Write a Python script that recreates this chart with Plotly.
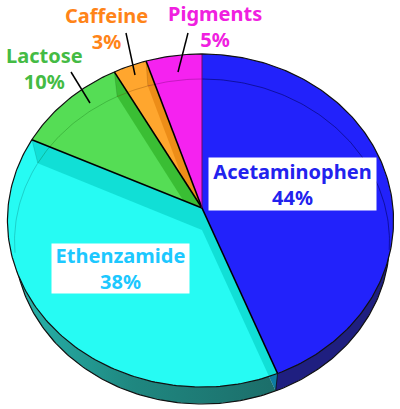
from math import cos, radians, sin

import plotly.graph_objects as go

# clockwise from 12 o'clock
names = ["Acetaminophen", "Ethenzamide", "Lactose", "Caffeine", "Pigments"]
shares = [44, 38, 10, 3, 5]
face_colors = ["#2222fb", "#26fbf3", "#55dd55", "#ffa62e", "#f522f0"]
wall_colors = [None, "rgba(0,200,190,0.55)", "rgba(40,170,30,0.6)", "rgba(225,125,10,0.6)", None]
label_colors = ["#2222ee", "#1cc8ff", "#44bb44", "#ff8418", "#f020e0"]
side_colors = ["#1f1f80", "#1c6e6a", "#2a8a2a", "#a06a10", "#a010a0"]

TOP = dict(cx=202, cy=208, rx=191, rx_left=194, ry=165.6, k=0.0751)
BOTTOM = dict(cx=202, cy=230, rx=187, rx_left=187, ry=161.7, k=0.0708)
FONT = "Noto Sans"


def project(angle, level, r=1.0):
    x = r * sin(radians(angle))
    y = r * cos(radians(angle))
    w = 1 + level["k"] * y
    rx = level["rx_left"] if x < 0 else level["rx"]
    return level["cx"] + rx * x / w, level["cy"] - level["ry"] * y / w


def arc(a0, a1, level):
    n = max(int(abs(a1 - a0)), 2)
    return [project(a0 + (a1 - a0) * i / n, level) for i in range(n + 1)]


def poly(fig, pts, fill, line="rgba(0,0,0,0)", width=0, **kw):
    fig.add_trace(go.Scatter(
        x=[p[0] for p in pts], y=[p[1] for p in pts], mode="lines", fill="toself",
        fillcolor=fill, line=dict(color=line, width=width), hoverinfo="skip", **kw,
    ))


def stroke(fig, pts, color, width):
    fig.add_trace(go.Scatter(
        x=[p[0] for p in pts], y=[p[1] for p in pts], mode="lines",
        line=dict(color=color, width=width), hoverinfo="skip",
    ))


# slice boundaries as angles
bounds = [0]
for s in shares:
    bounds.append(bounds[-1] + s * 3.6)
apex_top = (TOP["cx"], TOP["cy"])
apex_bot = (BOTTOM["cx"], BOTTOM["cy"])


def wall(angle):
    return [apex_top, project(angle, TOP), project(angle, BOTTOM), apex_bot]


fig = go.Figure()

# outer side of the disc, only the front part is left showing
poly(fig, [apex_bot] + arc(bounds[0], bounds[1], BOTTOM), side_colors[0])
fig.add_trace(go.Scatter(
    x=[p[0] for p in [apex_bot] + arc(bounds[1], bounds[2], BOTTOM)],
    y=[p[1] for p in [apex_bot] + arc(bounds[1], bounds[2], BOTTOM)],
    mode="lines", fill="toself", line=dict(width=0), hoverinfo="skip",
    fillgradient=dict(type="horizontal", colorscale=[[0, "#27b5ad"], [0.45, "#1f8780"], [1, "#1c6e6a"]]),
))
stroke(fig, arc(97, 262, BOTTOM), "#111111", 1.2)

# faces back to front so that walls seen through them stay inside their slice
order = [3, 2, 1, 0, 4]
walls = {3: [bounds[4]], 2: [bounds[3]], 1: [bounds[2], bounds[1]]}
for i in order:
    poly(fig, [apex_top] + arc(bounds[i], bounds[i + 1], TOP), face_colors[i])
    for a in walls.get(i, []):
        poly(fig, wall(a), wall_colors[i])
        stroke(fig, [project(a, TOP), project(a, BOTTOM)], "rgba(0,0,0,0.15)", 0.8)

# back rim of the lower disc, seen through the top
stroke(fig, arc(0, 97, BOTTOM), "rgba(0,0,90,0.55)", 1)
stroke(fig, arc(262, 295, BOTTOM), "rgba(0,80,80,0.25)", 1)
stroke(fig, arc(295.2, 331.2, BOTTOM), "rgba(0,80,0,0.25)", 1)
stroke(fig, arc(331.2, 342, BOTTOM), "rgba(120,60,0,0.3)", 1)
stroke(fig, arc(342, 360, BOTTOM), "rgba(90,0,90,0.3)", 1)

# slice edges and rim
for a in bounds[1:5]:
    stroke(fig, [apex_top, project(a, TOP)], "#000000", 1.6)
stroke(fig, [apex_top, project(0, TOP)], "#6a0a6a", 1)
stroke(fig, arc(0, 360, TOP), "#111111", 1.2)
stroke(fig, [project(bounds[1], TOP), project(bounds[1], BOTTOM)], "#111111", 0.8)

# leader lines
for p, q in [((71, 72), (90, 103)), ((126, 33), (135, 75)), ((188, 33), (178, 72))]:
    stroke(fig, [p, q], "#000000", 1.5)

label_xy = [(292.5, 184), (120, 268.5), (44, 68.5), (106, 28.5), (215, 26)]
label_box = [(165, 50), (135, 47), None, None, None]
for i, name in enumerate(names):
    box = label_box[i]
    fig.add_annotation(
        x=label_xy[i][0], y=label_xy[i][1], text=f"<b>{name}<br>{shares[i]}%</b>",
        showarrow=False, align="center", xanchor="center", yanchor="middle",
        font=dict(family=FONT, size=20, color=label_colors[i]),
        bgcolor="#ffffff" if box else None,
        width=box[0] if box else None, height=box[1] if box else None,
    )

fig.update_layout(
    width=400, height=409, margin=dict(l=0, r=0, t=0, b=0), showlegend=False,
    paper_bgcolor="#ffffff", plot_bgcolor="#ffffff",
    xaxis=dict(range=[0, 400], visible=False, fixedrange=True),
    yaxis=dict(range=[409, 0], visible=False, fixedrange=True),
)

fig.write_html("out.html", config={"displayModeBar": False},
               post_script="document.body.style.margin='0';")
